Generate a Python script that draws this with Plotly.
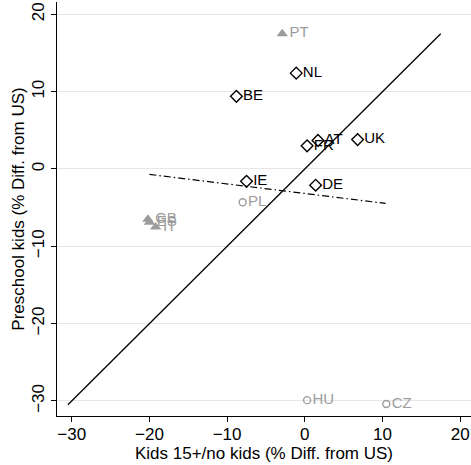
import plotly.graph_objects as go
import numpy as np

# Data
countries_a = ["NL", "BE", "AT", "FR", "UK", "IE", "DE"]          # hollow diamonds (black)
xa = [-1.1, -8.8, 1.7, 0.3, 6.8, -7.5, 1.4]
ya = [12.4, 9.4, 3.7, 3.0, 3.8, -1.6, -2.1]

countries_b = ["PT", "GB", "ES", "IT"]                            # filled triangles (grey)
xb = [-2.9, -20.2, -20.0, -19.2]
yb = [17.5, -6.5, -6.9, -7.5]

countries_c = ["PL", "HU", "CZ"]                                  # hollow circles (grey)
xc = [-8.0, 0.3, 10.5]
yc = [-4.3, -29.9, -30.4]

fit_x = [-20.0, 10.4]          # fitted (dash-dot) line
fit_y = [-0.7, -4.45]

x_ticks = [-30, -20, -10, 0, 10, 20]
y_ticks = [-30, -20, -10, 0, 10, 20]

all_y = ya + yb + yc
diag = [min(all_y) - 0.1, max(all_y)]

GREY = "#9c9c9c"
FONT = "Liberation Sans, Arial, Helvetica, sans-serif"

fig = go.Figure()

fig.add_trace(go.Scatter(x=diag, y=diag, mode="lines",
                         line=dict(color="black", width=1.3), hoverinfo="skip"))
fig.add_trace(go.Scatter(x=fit_x, y=fit_y, mode="lines",
                         line=dict(color="black", width=1.2, dash="7px,3px,1.5px,3px"),
                         hoverinfo="skip"))

fig.add_trace(go.Scatter(x=xa, y=ya, mode="markers+text", text=countries_a,
                         textposition="middle right",
                         textfont=dict(color="black", size=15, family=FONT),
                         marker=dict(symbol="diamond-open", size=9, color="black",
                                     line=dict(width=1.4, color="black"))))
fig.add_trace(go.Scatter(x=xb, y=yb, mode="markers+text", text=countries_b,
                         textposition="middle right",
                         textfont=dict(color=GREY, size=15, family=FONT),
                         marker=dict(symbol="triangle-up", size=10, color=GREY)))
fig.add_trace(go.Scatter(x=xc, y=yc, mode="markers+text", text=countries_c,
                         textposition="middle right",
                         textfont=dict(color=GREY, size=15, family=FONT),
                         marker=dict(symbol="circle-open", size=7, color=GREY,
                                     line=dict(width=1.4, color=GREY))))

fig.update_layout(
    width=471, height=465,
    margin=dict(l=57, r=0, t=2, b=49),
    plot_bgcolor="white", paper_bgcolor="white",
    showlegend=False,
    font=dict(family=FONT, size=17, color="black"),
    xaxis=dict(range=[-31.9, 21.4], tickvals=x_ticks, showgrid=False, zeroline=False,
               showline=True, linecolor="black", linewidth=1,
               ticks="outside", ticklen=5, tickcolor="black",
               tickfont=dict(size=17), automargin=False, ticklabelstandoff=-2,
               title=dict(text="Kids 15+/no kids (% Diff. from US)", font=dict(size=17),
                          standoff=0)),
    yaxis=dict(range=[-31.95, 21.6], tickvals=y_ticks, showgrid=True,
               gridcolor="#e6e6e6", gridwidth=1, zeroline=False,
               showline=True, linecolor="black", linewidth=1,
               ticks="outside", ticklen=5, tickcolor="black",
               tickangle=-90, tickfont=dict(size=17), automargin=False,
               title=dict(text="Preschool kids (% Diff. from US)", font=dict(size=17),
                          standoff=0)),
)

fig.write_html("out.html", config={"displayModeBar": False},
               post_script="document.body.style.margin='0';document.body.style.overflow='hidden';")
